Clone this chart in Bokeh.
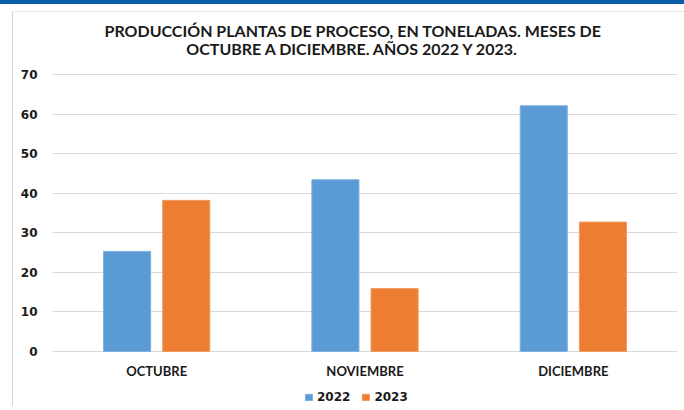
from bokeh.plotting import figure
from bokeh.models import ColumnDataSource, Legend, LegendItem, FactorRange, Range1d
from bokeh.core.properties import value
from bokeh.transform import dodge
from bokeh.embed import file_html
from bokeh.resources import INLINE

months = ["OCTUBRE", "NOVIEMBRE", "DICIEMBRE"]
y2022 = [25.3, 43.4, 62.1]
y2023 = [38.2, 15.9, 32.7]
series = ["2022", "2023"]
yticks = [0, 10, 20, 30, 40, 50, 60, 70]
title_lines = ["PRODUCCIÓN PLANTAS DE PROCESO, EN TONELADAS. MESES DE",
               "OCTUBRE A DICIEMBRE. AÑOS 2022 Y 2023."]

# layout geometry (pixels)
H = 406
TOP_PX, ZERO_PX = 74, 351          # pixel rows of the top tick and of zero
ppu = (ZERO_PX - TOP_PX) / yticks[-1]
y_lo = -(H - ZERO_PX) / ppu
y_hi = yticks[-1] + TOP_PX / ppu

src = ColumnDataSource(dict(m=months, a=y2022, b=y2023))

page_bg = ("linear-gradient(#0b5ea8,#0b5ea8) 0 0/100% 4px no-repeat, "
           "linear-gradient(#e6e6e6,#e6e6e6) 12px 11px/100% 1px no-repeat, "
           "linear-gradient(#d4d4d4,#d4d4d4) 12px 11px/1px 100% no-repeat, white")

p = figure(x_range=FactorRange(*months), y_range=Range1d(y_lo, y_hi), width=684, height=H,
           output_backend="svg", toolbar_location=None, title=None, x_axis_location=None,
           min_border_left=52, min_border_right=7, min_border_top=0, min_border_bottom=0,
           styles={"background": page_bg})
p.outline_line_color = None
p.background_fill_alpha = 0
p.border_fill_alpha = 0

r1 = p.vbar(x=dodge("m", -0.142, range=p.x_range), top="a", bottom=0, width=0.226, source=src,
            fill_color="#5B9BD5", line_color="#7fb0de", line_width=1)
r2 = p.vbar(x=dodge("m", 0.142, range=p.x_range), top="b", bottom=0, width=0.226, source=src,
            fill_color="#ED7D31", line_color="#f19a5e", line_width=1)

# category labels under the zero line
p.text(x="m", y=0, text="m", source=src, y_offset=19.5, text_align="center",
       text_baseline="middle", text_font=value("Lato"), text_font_style="bold",
       text_font_size="13px", text_color="#1a1a1a")

# two-line centred title
for line, off in zip(title_lines, (-44, -26.5)):
    p.text(x=[months[1]], y=[yticks[-1]], text=[line], x_offset=-12, y_offset=off,
           text_align="center", text_baseline="middle", text_font=value("Lato"),
           text_font_style="bold", text_font_size="16px", text_color="#1a1a1a")

for g in p.xgrid:
    g.visible = False
p.ygrid.grid_line_color = "#d9d9d9"
p.ygrid.grid_line_width = 1
p.yaxis.ticker = yticks
ax = p.yaxis[0]
ax.axis_line_color = None
ax.major_tick_line_color = None
ax.minor_tick_line_color = None
ax.major_tick_out = 0
ax.major_tick_in = 0
ax.major_label_text_font = "DejaVu Sans"
ax.major_label_text_font_style = "bold"
ax.major_label_text_font_size = "12px"
ax.major_label_text_color = "#1a1a1a"
ax.major_label_standoff = 15

legend = Legend(items=[LegendItem(label=series[0], renderers=[r1]),
                       LegendItem(label=series[1], renderers=[r2])],
                orientation="horizontal", location=(252, 2),
                label_text_font="DejaVu Sans", label_text_font_style="bold",
                label_text_font_size="12px", label_text_color="#1a1a1a",
                glyph_width=9, glyph_height=8, label_height=12, label_standoff=4,
                spacing=11, padding=0, margin=0, border_line_color=None,
                background_fill_alpha=0)
p.add_layout(legend, "center")

open("out.html", "w").write(file_html(p, INLINE))
